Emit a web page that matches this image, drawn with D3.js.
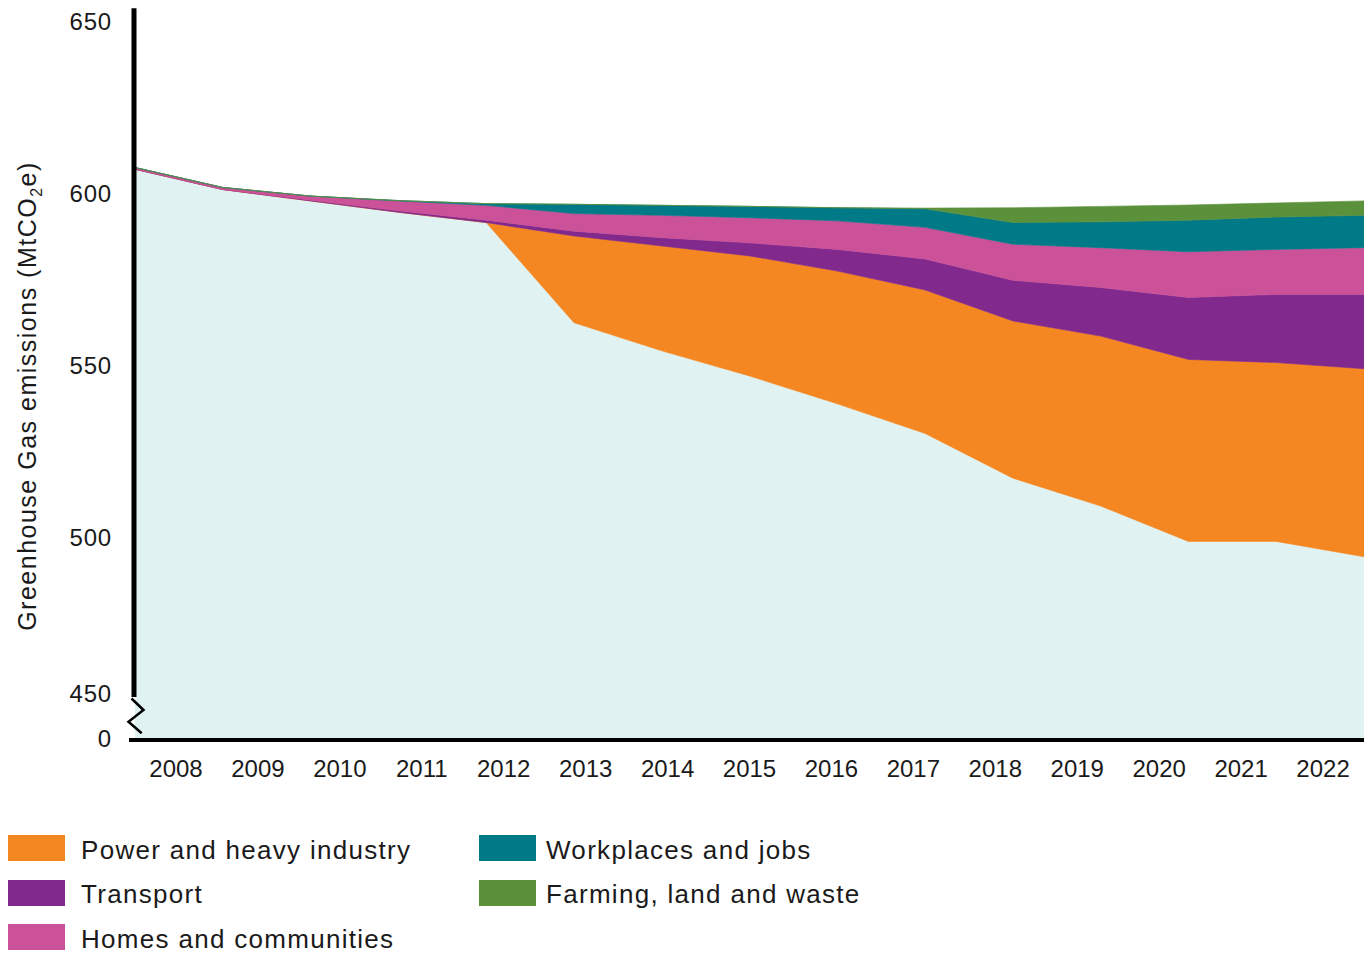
<!DOCTYPE html>
<html>
<head>
<meta charset="utf-8">
<script src="https://cdn.jsdelivr.net/npm/d3@7/dist/d3.min.js"></script>
<style>
  html, body { margin: 0; padding: 0; background: #ffffff; }
  svg { display: block; }
  text { font-family: "Liberation Sans", Arial, Helvetica, sans-serif; fill: #1a1a1a; }
</style>
</head>
<body>
<svg id="chart" width="1364" height="957"></svg>
<script>
// ---------------- data ----------------
const years = [2008, 2009, 2010, 2011, 2012, 2013, 2014, 2015, 2016, 2017, 2018, 2019, 2020, 2021, 2022];
const remaining  = [607.2, 601.3, 598.0, 594.7, 591.7, 562.6, 554.4, 547.1, 539.0, 530.4, 517.4, 509.3, 498.9, 498.9, 494.0];
const power      = [0, 0, 0, 0, 0, 25.2, 30.5, 34.9, 38.6, 41.7, 45.7, 49.4, 53.0, 52.1, 55.2];
const transport  = [0, 0, 0.2, 0.4, 0.7, 1.4, 2.4, 3.8, 6.3, 9.0, 11.8, 14.1, 18.0, 19.8, 21.6];
const homes      = [0.5, 0.6, 1.2, 2.9, 4.3, 5.1, 6.5, 7.3, 8.3, 9.2, 10.5, 11.6, 13.3, 13.1, 13.6];
const workplaces = [0, 0, 0, 0.1, 0.5, 2.7, 2.9, 3.3, 3.8, 5.4, 6.3, 7.5, 9.2, 9.4, 9.4];
const farming    = [0, 0, 0, 0, 0, 0, 0, 0, 0, 0.2, 4.3, 4.5, 4.4, 4.1, 4.2];

const seriesKeys   = ["remaining", "power", "transport", "homes", "workplaces", "farming"];
const seriesLabels = ["", "Power and heavy industry", "Transport", "Homes and communities", "Workplaces and jobs", "Farming, land and waste"];
const seriesColors = ["#e0f2f1", "#f48722", "#82298d", "#cb5199", "#007a87", "#5c913b"];
const yTicks = [0, 450, 500, 550, 600, 650];
const yTitle = "Greenhouse Gas emissions (MtCO";

// ---------------- build table ----------------
const seriesValues = { remaining, power, transport, homes, workplaces, farming };
const rows = years.map((yr, i) => {
  const r = { year: yr };
  seriesKeys.forEach(k => r[k] = seriesValues[k][i]);
  return r;
});

const svg = d3.select("#chart");

// ---------------- scales ----------------
const x = d3.scalePoint().domain(years).range([135, 1364]);
const xBand = d3.scaleBand().domain(years).range([135, 1364]);
// broken axis: 0 .. 450 compressed
const y = d3.scaleLinear().domain([0, 450, 500, 650]).range([739, 694, 538, 22]);

const stack = d3.stack().keys(seriesKeys);
const layers = stack(rows);

const area = d3.area()
  .x(d => x(d.data.year))
  .y0(d => y(d[0]))
  .y1(d => y(d[1]));

svg.append("g").selectAll("path")
  .data(layers)
  .join("path")
  .attr("d", area)
  .attr("fill", (d, i) => seriesColors[i])
  .attr("stroke", (d, i) => i === 0 ? "none" : seriesColors[i])
  .attr("stroke-width", 0.6)
  .attr("stroke-linejoin", "round");

// ---------------- axes ----------------
const yAxis = d3.axisLeft(y).tickValues(yTicks).tickSize(0).tickPadding(22).tickFormat(d3.format("d"));
const gy = svg.append("g").attr("transform", "translate(134,0)").call(yAxis);
gy.select(".domain").remove();
gy.selectAll("text").style("font-size", "24px").style("letter-spacing", "0.8px")
  .attr("font-family", null).attr("fill", "#1a1a1a");

// vertical axis line (broken)
svg.append("line")
  .attr("x1", 134).attr("x2", 134)
  .attr("y1", y(654)).attr("y2", 697)
  .attr("stroke", "#000").attr("stroke-width", 5);
// break zig-zag
svg.append("path")
  .attr("d", "M131.5,698.5 L143.5,710 L128.5,721.7 L141.7,733.3")
  .attr("fill", "none").attr("stroke", "#000").attr("stroke-width", 2.5);

const xAxis = d3.axisBottom(xBand).tickSize(0).tickPadding(20);
const gx = svg.append("g").attr("transform", "translate(0,740)").call(xAxis);
gx.select(".domain").remove();
gx.selectAll("text").style("font-size", "24px").attr("font-family", null).attr("fill", "#1a1a1a");

svg.append("line")
  .attr("x1", 129).attr("x2", 1364)
  .attr("y1", 740).attr("y2", 740)
  .attr("stroke", "#000").attr("stroke-width", 4);

// y title
const t = svg.append("text")
  .attr("transform", "translate(36,396) rotate(-90)")
  .attr("text-anchor", "middle")
  .style("font-size", "25px")
  .style("letter-spacing", "1.5px");
t.append("tspan").text(yTitle);
t.append("tspan").text("2").attr("dy", 6).style("font-size", "16px");
t.append("tspan").text("e)").attr("dy", -6);

// ---------------- legend ----------------
const legendItems = [
  { k: 1, sx: 8,   sy: 835, tx: 81,  ty: 859 },
  { k: 2, sx: 8,   sy: 880, tx: 81,  ty: 903 },
  { k: 3, sx: 8,   sy: 924, tx: 81,  ty: 948 },
  { k: 4, sx: 479, sy: 835, tx: 546, ty: 859 },
  { k: 5, sx: 479, sy: 880, tx: 546, ty: 903 }
];
const lg = svg.append("g");
legendItems.forEach(it => {
  lg.append("rect")
    .attr("x", it.sx).attr("y", it.sy)
    .attr("width", 57).attr("height", 26)
    .attr("fill", seriesColors[it.k]);
  lg.append("text")
    .attr("x", it.tx).attr("y", it.ty)
    .style("font-size", "26px")
    .style("letter-spacing", "1.3px")
    .text(seriesLabels[it.k]);
});
</script>
</body>
</html>
